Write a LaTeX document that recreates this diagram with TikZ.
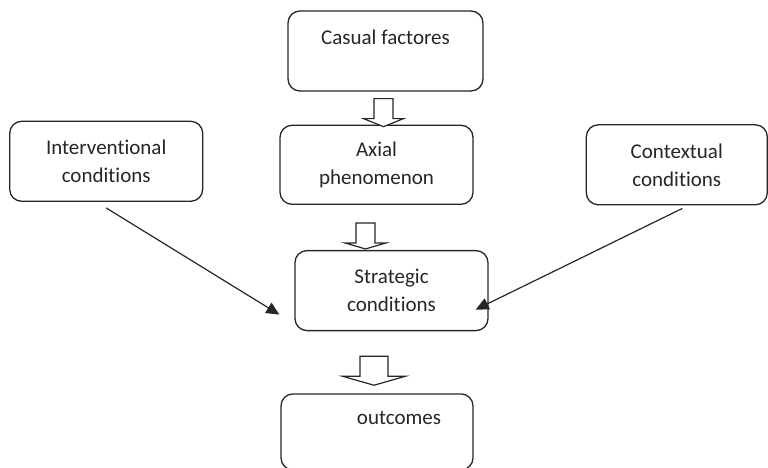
\documentclass[tikz,border=0pt]{standalone}
\usepackage{fontspec}
\setmainfont{Carlito}[Ligatures={NoCommon}]
\usetikzlibrary{positioning,calc,arrows.meta}

\tikzset{
  stage/.style={draw=black!85, line width=1.3pt, rounded corners=12pt, align=center,
    font=\fontsize{21}{28}\selectfont, text=black!85, inner sep=0pt, minimum height=80pt},
  influence/.style={draw=black!85, line width=1.2pt, -{Triangle[length=13pt,width=12pt]}},
  pics/hollowarrow/.style n args={4}{code={
    \draw[black!85, line width=1.2pt, fill=white, line join=miter]
      (-#1/2,0) -- (#1/2,0) -- (#1/2,#3) -- (#2/2,#3) -- (0,#3+#4)
      -- (-#2/2,#3) -- (-#1/2,#3) -- cycle;
  }}
}

\begin{document}
\begin{tikzpicture}[x=1pt,y=-1pt]
  \useasboundingbox (0,0) rectangle (768,468);
  \node[stage, minimum width=195pt] (casual) at (385.5,51) {Casual factores\\\mbox{}};
  \node[stage, minimum width=193pt, minimum height=79pt, below=33pt of casual, xshift=-9pt] (axial) {Axial\\phenomenon};
  \node[stage, minimum width=193pt, below=45pt of axial, xshift=15pt] (strategic) {Strategic\\conditions};
  \node[stage, minimum width=192pt, minimum height=76pt, below=62pt of strategic, xshift=-14.5pt] (outcomes) {\hspace*{44pt}outcomes\\\mbox{}};
  \node[stage, minimum width=193pt, left=76pt of axial, yshift=3.5pt] (interventional) {Interventional\\conditions};
  \node[stage, minimum width=181pt, right=112pt of axial] (contextual) {Contextual\\conditions};

  % hollow block arrows down the middle
  \pic at ($(casual.south)+(-2,7)$) {hollowarrow={19}{40}{20}{8}};
  \pic at ($(axial.south)+(-11,18)$) {hollowarrow={19}{41}{20}{6}};
  \pic at ($(strategic.south)+(-17.5,25)$) {hollowarrow={28}{63}{20}{9}};

  \draw[influence] ($(interventional.south)+(0,6)$) -- ($(strategic.west)+(-15,24)$);
  \draw[influence] ($(contextual.south)+(5.5,3)$) -- ($(strategic.east)+(-13,19)$);
\end{tikzpicture}
\end{document}
